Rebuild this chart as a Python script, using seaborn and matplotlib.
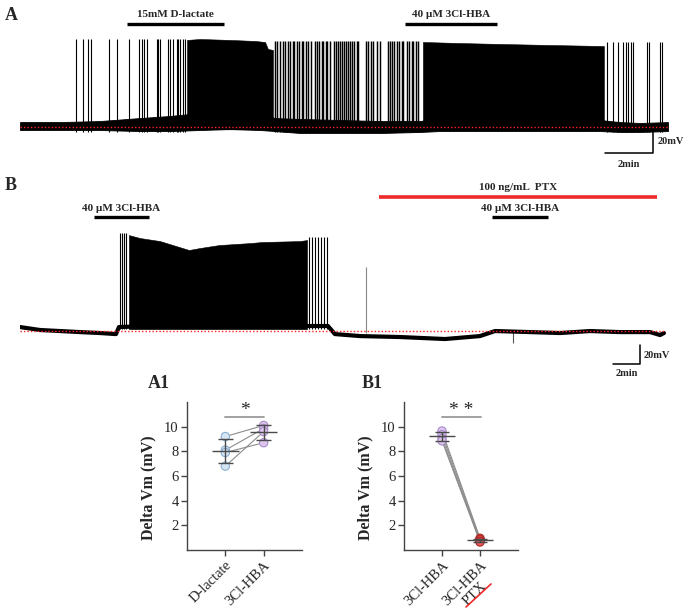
import numpy as np
import pandas as pd
import matplotlib
matplotlib.use("Agg")
import matplotlib.pyplot as plt
import seaborn as sns
from matplotlib.lines import Line2D

# ---------------- trace A (time in min, Vm in mV relative to rest) ----------------
a_base_t = [0, 1.67, 3.33, 5.0, 6.25, 7.5, 8.75, 10.0, 10.63, 11.67, 13.33, 15.0,
            16.67, 17.5, 20.0, 22.5, 24.17, 25.0, 25.83, 27.0]
a_base_hi = [4.3, 4.3, 5.2, 7.8, 9.6, 12.2, 13.0, 11.3, 7.8, 7.0, 6.1, 5.2,
             5.2, 7.8, 7.8, 7.0, 6.1, 4.3, 3.5, 4.3]
a_base_lo = [-2.6, -2.6, -2.6, -3.5, -3.5, -2.6, -1.7, -2.6, -3.5, -5.2, -5.2, -5.2,
             -4.3, -3.5, -3.5, -3.5, -3.5, -4.3, -4.3, -3.5]
a_spk_early = [2.33, 2.63, 2.83, 2.96, 3.71, 4.04, 4.54, 4.97, 5.07, 5.17, 5.28, 5.70,
               5.76, 5.83, 6.18, 6.25, 6.39, 6.53, 6.60, 6.67, 6.81, 6.88]
a_spk_mid = [10.63, 10.72, 10.83, 10.95, 11.04, 11.18, 11.25, 11.36, 11.43, 11.53, 11.64,
             11.74, 11.80, 11.92, 12.01, 12.13, 12.29, 12.39, 12.47, 12.57, 12.64, 12.75,
             12.80, 12.92, 13.10, 13.17, 13.26, 13.33, 13.40, 13.50, 13.58, 13.68, 13.75,
             13.82, 13.92, 14.03, 14.10, 14.42, 14.51, 14.61, 14.72, 14.89, 15.00, 15.35,
             15.42, 15.49, 15.58, 15.70, 15.80, 15.90, 15.97, 16.11, 16.22, 16.32, 16.39,
             16.50, 16.60]
a_spk_late = [24.46, 24.71, 24.92, 25.13, 25.25, 25.33, 25.46, 25.54, 26.13, 26.21,
              26.67, 26.75]
a_blk1_t = [6.96, 7.5, 8.75, 9.79, 10.21, 10.33, 10.54]
a_blk1_top = [75.7, 76.5, 75.7, 74.8, 73.9, 67.8, 67.0]
a_blk2_t = [16.79, 18.33, 20.0, 22.08, 24.33]
a_blk2_top = [73.9, 73.0, 72.2, 71.3, 70.4]

# ---------------- trace B ----------------
b_base_t = [0, 1.48, 2.96, 4.44, 5.93, 7.11, 7.33, 9.63, 12.59, 17.04, 20.74, 22.81,
            23.33, 25.19, 28.15, 31.48, 34.07, 35.19, 37.78, 40.0, 42.22, 44.44,
            46.67, 47.41, 47.7]
b_base_v = [4.2, 1.1, 0.0, -1.1, -2.1, -3.2, 4.2, 5.3, 6.3, 6.3, 5.3, 5.3,
            -3.2, -5.3, -6.3, -8.4, -5.3, 0.0, -1.1, -2.1, 0.0, -1.1,
            -1.1, -4.2, -2.1]
b_spk_first = [7.41, 7.56, 7.70, 7.85]
b_spk_last = [21.41, 21.63, 21.85, 22.07, 22.30, 22.52, 22.74]
b_blk_t = [8.07, 8.89, 10.37, 12.52, 13.33, 14.74, 17.04, 17.93, 20.74, 21.26]
b_blk_top = [101.0, 97.9, 94.7, 85.3, 87.4, 90.5, 92.6, 93.7, 94.7, 95.8]

# ---------------- summary data ----------------
a1_groups = ["D-lactate", "3Cl-HBA"]
a1_dlac = [9.2, 8.1, 7.9, 6.8]
a1_hba = [10.1, 9.85, 8.7, 9.6]
b1_groups = ["3Cl-HBA", "3Cl-HBA\nPTX"]
b1_hba = [9.65, 9.35, 9.05, 8.85]
b1_ptx = [0.95, 0.85, 0.72, 0.65]

sns.set_style("ticks")
plt.rcParams["font.family"] = ["Liberation Serif", "DejaVu Serif"]

W, H = 685, 614
fig = plt.figure(figsize=(W / 100, H / 100), dpi=100)


def add_ax(l, t, r, b):
    return fig.add_axes([l / W, 1 - b / H, (r - l) / W, (b - t) / H])


def drug_bar(ax, t0, t1, y, label, ty):
    ax.plot([t0, t1], [y, y], color="black", lw=2.4, solid_capstyle="butt")
    ax.text((t0 + t1) / 2, ty, label, ha="center", va="center",
            fontsize=8, fontweight="bold")


def scale_bar(ax, t_end, v_top, lbl_mv, lbl_min, dt_txt):
    # 20 mV vertical, 2 min horizontal
    ax.plot([t_end - 2, t_end, t_end], [v_top - 20, v_top - 20, v_top],
            color="black", lw=1.1, clip_on=False)
    ax.text(t_end + dt_txt, lbl_mv, "20mV", ha="left", va="center",
            fontsize=7.5, fontweight="bold")
    ax.text(t_end - 1, lbl_min, "2min", ha="center", va="center",
            fontsize=7.5, fontweight="bold")


# ---- panel A trace ----
axA = add_ax(20, 0, 685, 175)
axA.set_xlim(0, 27.71)
axA.set_ylim(-41.7, 110.4)
axA.axis("off")
axA.fill_between(a_base_t, a_base_lo, a_base_hi, color="black", lw=0.6)
axA.fill_between(a_blk1_t, -2, a_blk1_top, color="black", lw=0.4)
axA.fill_between(a_blk2_t, -2, a_blk2_top, color="black", lw=0.4)
axA.vlines(a_spk_early, -4, 76.5, color="black", lw=0.8)
axA.vlines(a_spk_mid, -4, 74.5, color="black", lw=1.05)
axA.vlines(a_spk_late, -4, 73.5, color="black", lw=0.8)
axA.plot([0, 27], [0, 0], color="#ff2020", ls=(0, (1, 1.5)), lw=1.0)
drug_bar(axA, 4.46, 8.5, 89.6, "15mM D-lactate", ty=97.8)
drug_bar(axA, 16.04, 19.88, 89.6, "40 \u00b5M 3Cl-HBA", ty=97.8)
scale_bar(axA, 26.375, -2.6, -13.0, -33.0, 0.2)
fig.text(5 / W, 1 - 15 / H, "A", fontsize=13, fontweight="bold", va="center")

# ---- panel B trace ----
axB = add_ax(20, 178, 685, 385)
axB.set_xlim(0, 49.26)
axB.set_ylim(-56.8, 161.1)
axB.axis("off")
axB.fill_between(b_blk_t, 2, b_blk_top, color="black", lw=0.4)
axB.vlines(b_spk_first, 2, 103, color="black", lw=0.8)
axB.vlines(b_spk_last, 2, 99, color="black", lw=0.8)
axB.vlines([25.63], -2, 67, color="#888888", lw=0.8)
axB.vlines([36.52], -12.6, 0, color="#555555", lw=0.8)
axB.plot(b_base_t, b_base_v, color="black", lw=3.0, solid_joinstyle="round")
axB.plot([0, 47.7], [0, 0], color="#ff2020", ls=(0, (1, 1.5)), lw=1.0)
axB.plot([26.6, 47.2], [141, 141], color="#ee2a2a", lw=2.6, solid_capstyle="butt")
axB.text(36.9, 151.6, "100 ng/mL  PTX", ha="center", va="center",
         fontsize=8, fontweight="bold")
drug_bar(axB, 5.48, 9.56, 120, "40 \u00b5M 3Cl-HBA", ty=129.5)
drug_bar(axB, 35.0, 39.1, 120, "40 \u00b5M 3Cl-HBA", ty=129.5)
scale_bar(axB, 45.93, -14.7, -25.5, -44.5, 0.3)
fig.text(5 / W, 1 - 186 / H, "B", fontsize=13, fontweight="bold", va="center")


# ---- summary panels ----
def summary(ax, groups, v0, v1, c0, c1, stars):
    n = len(v0)
    df = pd.DataFrame({
        "pos": [0] * n + [1] * n,
        "val": list(v0) + list(v1),
        "pair": list(range(n)) * 2,
        "grp": [groups[0]] * n + [groups[1]] * n,
    })
    sns.lineplot(data=df, x="pos", y="val", units="pair", estimator=None,
                 color="#8c8c8c", lw=0.8, ax=ax, legend=False)
    sns.scatterplot(data=df, x="pos", y="val", hue="grp",
                    palette=[c0[0], c1[0]], edgecolor=[c0[1]] * n + [c1[1]] * n,
                    linewidth=0.8, s=36, ax=ax, legend=False, zorder=4)
    for p, vals in [(0, v0), (1, v1)]:
        m, sd = np.mean(vals), np.std(vals, ddof=1)
        ax.hlines(m, p - 0.35, p + 0.35, color="#4a4a4a", lw=1.0, zorder=5)
        ax.hlines([m - sd, m + sd], p - 0.19, p + 0.19, color="#4a4a4a", lw=1.0, zorder=5)
        ax.vlines(p, m - sd, m + sd, color="#4a4a4a", lw=1.0, zorder=5)
    ax.plot([0, 1.02], [10.8, 10.8], color="#9a9a9a", lw=1.3)
    ax.text(0.5, 11.35, stars, ha="center", va="center", fontsize=14)
    ax.set_xlim(-1, 2)
    ax.set_ylim(0, 12)
    ax.set_yticks([2, 4, 6, 8, 10])
    ax.set_xticks([0, 1])
    ax.set_xticklabels(groups, rotation=45, ha="right", rotation_mode="anchor",
                       multialignment="center")
    ax.tick_params(axis="both", labelsize=10.5, length=4, width=1, color="#444444",
                   pad=2)
    ax.set_xlabel("")
    ax.set_ylabel("Delta Vm (mV)", fontsize=11.5, fontweight="bold")
    ax.yaxis.set_label_coords(-0.27, 0.42)
    sns.despine(ax=ax)
    for s in ["left", "bottom"]:
        ax.spines[s].set_color("#444444")
        ax.spines[s].set_linewidth(1.0)


axA1 = add_ax(187, 402, 302, 550)
summary(axA1, a1_groups, a1_dlac, a1_hba, ("#d5e5f4", "#8aaed0"),
        ("#dcc6ec", "#a98bcb"), "*")
fig.text(148 / W, 1 - 384 / H, "A1", fontsize=13, fontweight="bold", va="center")

axB1 = add_ax(404, 402, 518, 550)
summary(axB1, b1_groups, b1_hba, b1_ptx, ("#dcc6ec", "#a98bcb"),
        ("#e65a5a", "#b02a2a"), "* *")
fig.text(362 / W, 1 - 384 / H, "B1", fontsize=13, fontweight="bold", va="center")

# red underline beneath "PTX"
fig.add_artist(Line2D([466 / W, 491 / W], [1 - 607 / H, 1 - 584 / H],
                      color="#ee2a2a", lw=1.2))

fig.savefig("out.png", dpi=100)
